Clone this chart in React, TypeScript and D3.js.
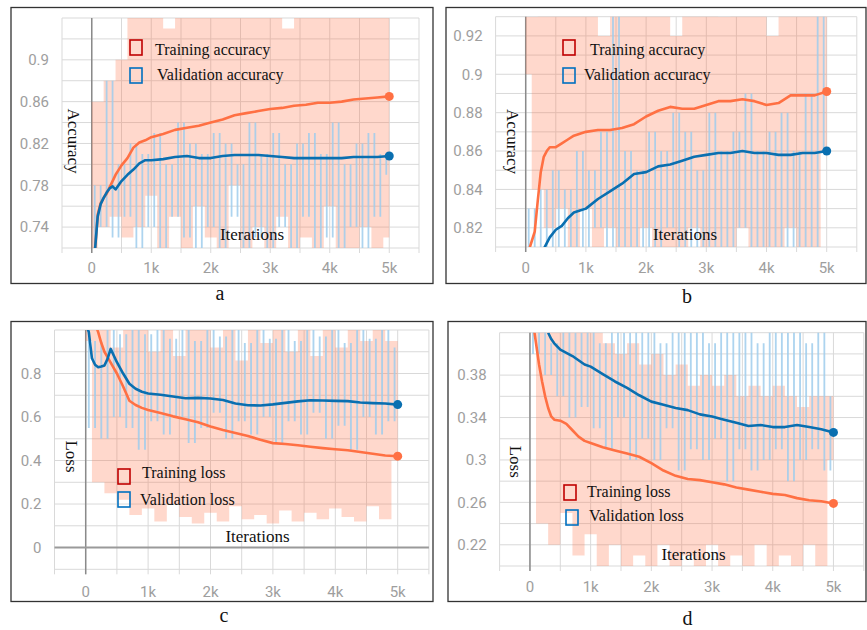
import React from 'react';
import * as d3 from 'd3';

// iterations used by the smoothed curves
const ITERS = [0, 50, 100, 150, 200, 250, 300, 350, 400, 500, 600, 700, 800, 900, 1000,
  1200, 1400, 1600, 1800, 2000, 2200, 2400, 2600, 2800, 3000, 3200, 3400, 3600, 3800,
  4000, 4200, 4400, 4600, 4800, 5000];
// iterations used by the raw (unsmoothed) traces
const RAW_ITERS = d3.range(0, 5001, 100);

const X_TICKS = [0, 1000, 2000, 3000, 4000, 5000];
const X_TICK_LABELS = ['0', '1k', '2k', '3k', '4k', '5k'];

// (a) accuracy, run 1
const A_TRAIN = [null, 0.715, 0.752, 0.763, 0.768, 0.772, 0.778, 0.784, 0.79, 0.799, 0.806, 0.816, 0.821, 0.823, 0.826,
  0.829, 0.833, 0.835, 0.837, 0.840, 0.843, 0.847, 0.849, 0.851, 0.853, 0.854, 0.856, 0.857, 0.859,
  0.859, 0.860, 0.862, 0.863, 0.864, 0.865];
const A_VAL = [null, 0.715, 0.75, 0.762, 0.768, 0.773, 0.777, 0.779, 0.776, 0.784, 0.79, 0.795, 0.801, 0.804, 0.804,
  0.805, 0.807, 0.808, 0.806, 0.806, 0.808, 0.809, 0.809, 0.809, 0.808, 0.807, 0.806, 0.806, 0.806,
  0.806, 0.806, 0.807, 0.807, 0.807, 0.808];
const A_RAW_TRAIN = [
  0.71, 0.86, 0.74, 0.88, 0.75, 0.90, 0.73, 0.96, 0.74, 0.95,
  0.77, 0.96, 0.72, 0.93, 0.75, 0.96, 0.72, 0.95, 0.76, 0.96,
  0.73, 0.95, 0.71, 0.96, 0.78, 0.94, 0.72, 0.96, 0.74, 0.95,
  0.72, 0.96, 0.75, 0.93, 0.71, 0.96, 0.73, 0.95, 0.72, 0.96,
  0.76, 0.95, 0.72, 0.96, 0.71, 0.94, 0.74, 0.96, 0.72, 0.95,
  0.73];
const A_RAW_VAL = [
  0.72, 0.78, 0.74, 0.88, 0.73, 0.80, 0.75, 0.82, 0.72, 0.81,
  0.74, 0.83, 0.72, 0.80, 0.75, 0.84, 0.73, 0.82, 0.71, 0.81,
  0.74, 0.83, 0.72, 0.82, 0.75, 0.80, 0.71, 0.84, 0.73, 0.81,
  0.72, 0.83, 0.74, 0.80, 0.71, 0.82, 0.75, 0.83, 0.72, 0.81,
  0.73, 0.84, 0.71, 0.80, 0.74, 0.82, 0.72, 0.83, 0.75, 0.81,
  0.79];

// (b) accuracy, run 2
const B_TRAIN = [null, 0.808, 0.813, 0.818, 0.834, 0.849, 0.857, 0.86, 0.862, 0.862, 0.864, 0.866, 0.868, 0.869, 0.870,
  0.871, 0.871, 0.872, 0.874, 0.878, 0.881, 0.883, 0.882, 0.882, 0.884, 0.886, 0.886, 0.887, 0.886,
  0.884, 0.885, 0.889, 0.889, 0.889, 0.891];
const B_VAL = [null, null, null, null, null, null, 0.809, 0.812, 0.815, 0.819, 0.821, 0.825, 0.828, 0.829, 0.83,
  0.835, 0.839, 0.843, 0.848, 0.849, 0.852, 0.853, 0.855, 0.857, 0.858, 0.859, 0.859, 0.86, 0.859,
  0.859, 0.858, 0.858, 0.859, 0.859, 0.86];
const B_RAW_TRAIN = [
  0.90, 0.93, 0.84, 0.95, 0.82, 0.94, 0.83, 0.95, 0.81, 0.94,
  0.83, 0.95, 0.80, 0.92, 0.82, 0.95, 0.81, 0.94, 0.80, 0.95,
  0.82, 0.94, 0.80, 0.95, 0.81, 0.92, 0.80, 0.95, 0.82, 0.94,
  0.80, 0.95, 0.81, 0.93, 0.80, 0.95, 0.82, 0.94, 0.80, 0.95,
  0.81, 0.92, 0.80, 0.95, 0.82, 0.94, 0.80, 0.95, 0.81, 0.94,
  0.86];
const B_RAW_VAL = [
  0.80, 0.83, 0.80, 0.84, 0.81, 0.85, 0.80, 0.84, 0.81, 0.86,
  0.80, 0.85, 0.82, 0.87, 0.80, 0.94, 0.81, 0.86, 0.80, 0.85,
  0.81, 0.87, 0.80, 0.86, 0.82, 0.88, 0.80, 0.87, 0.81, 0.85,
  0.80, 0.88, 0.81, 0.86, 0.80, 0.87, 0.82, 0.89, 0.80, 0.86,
  0.81, 0.87, 0.80, 0.88, 0.81, 0.86, 0.80, 0.89, 0.81, 0.94,
  0.86];

// (c) loss, run 1
const C_TRAIN = [null, null, null, 1.03, 0.99, 0.94, 0.9, 0.875, 0.85, 0.8, 0.74, 0.675, 0.655, 0.642, 0.632,
  0.618, 0.603, 0.59, 0.576, 0.556, 0.54, 0.527, 0.513, 0.495, 0.48, 0.476, 0.47, 0.463, 0.457,
  0.452, 0.447, 0.439, 0.431, 0.423, 0.42];
const C_VAL = [1.03, 0.99, 0.87, 0.84, 0.829, 0.832, 0.837, 0.867, 0.913, 0.852, 0.8, 0.753, 0.73, 0.716, 0.708,
  0.702, 0.694, 0.686, 0.688, 0.685, 0.678, 0.662, 0.654, 0.653, 0.658, 0.665, 0.672, 0.677, 0.676,
  0.674, 0.673, 0.667, 0.664, 0.662, 0.657];
const C_RAW_TRAIN = [
  0.95, 1.05, 0.30, 1.05, 0.25, 0.92, 0.22, 1.05, 0.15, 1.05,
  0.18, 0.90, 0.12, 1.05, 0.20, 0.88, 0.14, 1.05, 0.11, 1.05,
  0.16, 0.92, 0.12, 1.05, 0.19, 0.86, 0.13, 1.05, 0.15, 0.94,
  0.11, 1.05, 0.17, 0.90, 0.12, 1.05, 0.16, 0.88, 0.13, 1.05,
  0.18, 0.92, 0.14, 1.05, 0.12, 0.95, 0.19, 1.05, 0.13, 0.95,
  0.40];
const C_RAW_VAL = [
  1.00, 0.55, 0.95, 0.50, 1.02, 0.60, 0.98, 0.55, 1.02, 0.45,
  0.98, 0.58, 1.02, 0.52, 0.96, 0.60, 1.02, 0.48, 0.95, 0.55,
  1.02, 0.62, 0.97, 0.50, 1.02, 0.58, 0.94, 0.52, 1.02, 0.60,
  0.96, 0.48, 1.02, 0.58, 0.95, 0.52, 1.02, 0.62, 0.97, 0.50,
  1.02, 0.56, 0.94, 0.45, 1.02, 0.60, 0.96, 0.52, 1.00, 0.58,
  0.92];

// (d) loss, run 2
const D_TRAIN = [null, 0.43, 0.41, 0.39, 0.374, 0.36, 0.349, 0.341, 0.338, 0.337, 0.334, 0.328, 0.322, 0.318, 0.316,
  0.312, 0.309, 0.306, 0.303, 0.297, 0.29, 0.285, 0.282, 0.281, 0.279, 0.277, 0.274, 0.272, 0.27,
  0.268, 0.267, 0.264, 0.262, 0.261, 0.259];
const D_VAL = [null, null, null, null, null, null, 0.42, 0.414, 0.41, 0.404, 0.401, 0.398, 0.394, 0.39, 0.388,
  0.381, 0.374, 0.368, 0.361, 0.355, 0.352, 0.349, 0.347, 0.343, 0.341, 0.338, 0.335, 0.332, 0.333,
  0.331, 0.331, 0.333, 0.331, 0.329, 0.326];
const D_RAW_TRAIN = [
  0.43, 0.43, 0.24, 0.43, 0.22, 0.43, 0.25, 0.43, 0.21, 0.43,
  0.23, 0.42, 0.19, 0.41, 0.22, 0.40, 0.19, 0.41, 0.21, 0.39,
  0.19, 0.40, 0.22, 0.38, 0.19, 0.39, 0.21, 0.37, 0.19, 0.38,
  0.22, 0.37, 0.19, 0.38, 0.21, 0.36, 0.19, 0.37, 0.22, 0.36,
  0.19, 0.37, 0.21, 0.36, 0.19, 0.35, 0.22, 0.36, 0.19, 0.36,
  0.30];
const D_RAW_VAL = [
  0.43, 0.40, 0.43, 0.38, 0.41, 0.36, 0.43, 0.34, 0.42, 0.35,
  0.43, 0.33, 0.41, 0.31, 0.43, 0.34, 0.42, 0.30, 0.43, 0.32,
  0.43, 0.30, 0.41, 0.33, 0.43, 0.29, 0.42, 0.31, 0.43, 0.30,
  0.41, 0.32, 0.43, 0.28, 0.42, 0.31, 0.43, 0.29, 0.41, 0.30,
  0.43, 0.31, 0.42, 0.28, 0.43, 0.30, 0.41, 0.31, 0.43, 0.29,
  0.36];

const A_YTICKS = [0.74, 0.78, 0.82, 0.86, 0.9];
const B_YTICKS = [0.82, 0.84, 0.86, 0.88, 0.9, 0.92];
const C_YTICKS = [0, 0.2, 0.4, 0.6, 0.8];
const D_YTICKS = [0.22, 0.26, 0.3, 0.34, 0.38];

const ORANGE = '#ff7043';
const BLUE = '#0a6fb0';
const SERIF = '"Liberation Serif", "Times New Roman", serif';

const panels = [
  {
    id: 'a', frame: [11, 7.5, 422, 276], plot: { left: 62, right: 419, top: 18, bottom: 248 },
    yDomain: [0.72, 0.94], yStep: 0.02, yTicks: A_YTICKS, xLabelY: 273,
    train: A_TRAIN, val: A_VAL, rawTrain: A_RAW_TRAIN, rawVal: A_RAW_VAL, zeroLine: false,
    legend: [{ x: 130, y: 40, tx: 155, ty: 55, c: '#c00000', t: 'Training accuracy' },
      { x: 130, y: 68, tx: 157, ty: 80, c: '#0070c0', t: 'Validation accuracy' }],
    yTitle: { t: 'Accuracy', x: 73.5, y: 141 }, xTitle: { x: 252, y: 240 }, caption: { t: 'a', x: 220, y: 300 },
  },
  {
    id: 'b', frame: [446, 7.5, 420, 276], plot: { left: 495.6, right: 856.8, top: 16.7, bottom: 247 },
    yDomain: [0.81, 0.93], yStep: 0.01, yTicks: B_YTICKS, xLabelY: 273,
    train: B_TRAIN, val: B_VAL, rawTrain: B_RAW_TRAIN, rawVal: B_RAW_VAL, zeroLine: false,
    legend: [{ x: 563, y: 40, tx: 590, ty: 55, c: '#c00000', t: 'Training accuracy' },
      { x: 563, y: 68, tx: 584, ty: 80, c: '#0070c0', t: 'Validation accuracy' }],
    yTitle: { t: 'Accuracy', x: 512.5, y: 141.5 }, xTitle: { x: 685, y: 240 }, caption: { t: 'b', x: 687, y: 303 },
  },
  {
    id: 'c', frame: [11, 321.5, 422, 280], plot: { left: 54.5, right: 428.9, top: 330, bottom: 569.3 },
    yDomain: [-0.1, 1.0], yStep: 0.1, yTicks: C_YTICKS, xLabelY: 597,
    train: C_TRAIN, val: C_VAL, rawTrain: C_RAW_TRAIN, rawVal: C_RAW_VAL, zeroLine: true,
    legend: [{ x: 118, y: 469, tx: 142, ty: 478, c: '#c00000', t: 'Training loss' },
      { x: 118, y: 492, tx: 140, ty: 505, c: '#0070c0', t: 'Validation loss' }],
    yTitle: { t: 'Loss', x: 71.5, y: 456.5 }, xTitle: { x: 257.5, y: 542 }, caption: { t: 'c', x: 224, y: 622 },
  },
  {
    id: 'd', frame: [448, 321.5, 418, 280], plot: { left: 499.6, right: 863.8, top: 332.7, bottom: 566 },
    yDomain: [0.2, 0.42], yStep: 0.02, yTicks: D_YTICKS, xLabelY: 592,
    train: D_TRAIN, val: D_VAL, rawTrain: D_RAW_TRAIN, rawVal: D_RAW_VAL, zeroLine: false,
    legend: [{ x: 564, y: 485, tx: 587, ty: 497, c: '#c00000', t: 'Training loss' },
      { x: 566, y: 510, tx: 589, ty: 521, c: '#0070c0', t: 'Validation loss' }],
    yTitle: { t: 'Loss', x: 515, y: 461.7 }, xTitle: { x: 693.5, y: 560 }, caption: { t: 'd', x: 687.5, y: 625 },
  },
];

type Cfg = typeof panels[number];

function Panel({ cfg }: { cfg: Cfg }) {
  const { plot, yDomain } = cfg;
  const x = d3.scaleLinear().domain([-500, 5500]).range([plot.left, plot.right]);
  const y = d3.scaleLinear().domain(yDomain).range([plot.bottom, plot.top]);

  const line = d3.line<number | null>()
    .defined(d => d != null)
    .x((d, i) => x(ITERS[i]))
    .y(d => y(d as number));

  // raw trace: a column between each pair of consecutive samples
  const columns = (vals: number[], frac: number, off: number) => vals.slice(1).map((v, i) => {
    const p = vals[i];
    const step = x(RAW_ITERS[i + 1]) - x(RAW_ITERS[i]);
    const x0 = x(RAW_ITERS[i]) + step * off, x1 = x0 + step * frac;
    return `M${x0},${y(Math.max(p, v))}H${x1}V${y(Math.min(p, v))}H${x0}Z`;
  }).join('');

  const vGrid = d3.range(-500, 5501, 500);
  const hGrid = d3.range(yDomain[0], yDomain[1] + cfg.yStep / 2, cfg.yStep);
  const last = ITERS.length - 1;
  const clipId = `clip-${cfg.id}`;
  const [fx, fy, fw, fh] = cfg.frame;

  return (
    <g>
      <rect x={fx} y={fy} width={fw} height={fh} fill="#fff" stroke="#333" strokeWidth={1.3} />
      <defs>
        <clipPath id={clipId}>
          <rect x={plot.left} y={plot.top} width={plot.right - plot.left} height={plot.bottom - plot.top} />
        </clipPath>
      </defs>
      {hGrid.map((v, i) => (
        <line key={`h${i}`} x1={plot.left} x2={plot.right} y1={y(v)} y2={y(v)} stroke="#d9d9d9" strokeWidth={1} />
      ))}
      {vGrid.map(v => (
        <line key={`v${v}`} x1={x(v)} x2={x(v)} y1={plot.top} y2={plot.bottom + 5} stroke="#d9d9d9" strokeWidth={1} />
      ))}
      <line x1={x(0)} x2={x(0)} y1={plot.top} y2={plot.bottom + 5} stroke="#8a8a8a" strokeWidth={1.5} />
      {cfg.zeroLine && (
        <line x1={plot.left} x2={plot.right} y1={y(0)} y2={y(0)} stroke="#9a9a9a" strokeWidth={2} />
      )}
      <g clipPath={`url(#${clipId})`}>
        <path d={columns(cfg.rawTrain, 1, 0)} fill={ORANGE} fillOpacity={0.27} />
        <path d={columns(cfg.rawVal, 0.3, 0.35)} fill="#9fcdec" fillOpacity={0.85} />
        <path d={line(cfg.train) || ''} fill="none" stroke={ORANGE} strokeWidth={2.6} strokeLinejoin="round" />
        <path d={line(cfg.val) || ''} fill="none" stroke={BLUE} strokeWidth={2.6} strokeLinejoin="round" />
      </g>
      <circle cx={x(ITERS[last])} cy={y(cfg.train[last] as number)} r={4.5} fill={ORANGE} />
      <circle cx={x(ITERS[last])} cy={y(cfg.val[last] as number)} r={4.5} fill={BLUE} />
      {cfg.yTicks.map(t => (
        <text key={`yt${t}`} x={plot.left - 13} y={y(t)} dy="0.35em" textAnchor="end"
          fontFamily="Roboto, sans-serif" fontSize={15} fill="#9e9e9e">{`${+t.toFixed(2)}`}</text>
      ))}
      {X_TICKS.map((t, i) => (
        <text key={`xt${t}`} x={x(t)} y={cfg.xLabelY} textAnchor="middle"
          fontFamily="Roboto, sans-serif" fontSize={15} fill="#9e9e9e">{X_TICK_LABELS[i]}</text>
      ))}
      {cfg.legend.map(l => (
        <g key={l.t}>
          <rect x={l.x} y={l.y} width={12} height={15} fill="none" stroke={l.c} strokeWidth={1.6} />
          <text x={l.tx} y={l.ty} fontFamily={SERIF} fontSize={16} fill="#111">{l.t}</text>
        </g>
      ))}
      <text transform={`translate(${cfg.yTitle.x},${cfg.yTitle.y}) rotate(90)`} textAnchor="middle"
        dominantBaseline="central" fontFamily={SERIF} fontSize={17} fill="#111">{cfg.yTitle.t}</text>
      <text x={cfg.xTitle.x} y={cfg.xTitle.y} textAnchor="middle" fontFamily={SERIF} fontSize={17} fill="#111">Iterations</text>
      <text x={cfg.caption.x} y={cfg.caption.y} textAnchor="middle" fontFamily={SERIF} fontSize={20} fill="#111">{cfg.caption.t}</text>
    </g>
  );
}

export default function App() {
  return (
    <svg width={867} height={630} style={{ position: 'absolute', left: 0, top: 0, background: '#fff' }}>
      {panels.map(p => <Panel key={p.id} cfg={p} />)}
    </svg>
  );
}
